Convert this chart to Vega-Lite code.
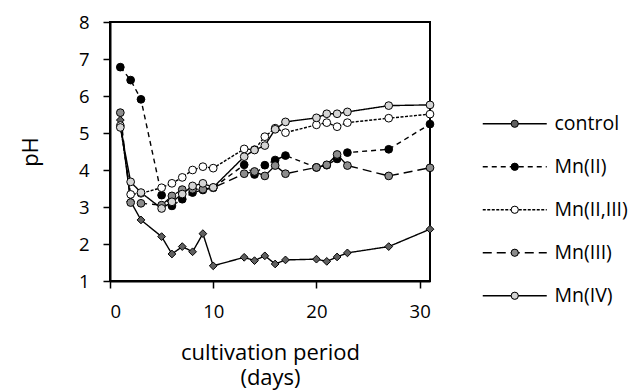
{
  "$schema": "https://vega.github.io/schema/vega-lite/v6.json",
  "width": 320,
  "height": 259,
  "autosize": {"type": "none"},
  "padding": {"left": 110, "top": 22, "right": 204, "bottom": 110},
  "config": {
    "font": "Open Sans",
    "view": {"stroke": "black", "strokeWidth": 2},
    "axis": {"grid": false, "domainColor": "black", "domainWidth": 2, "tickColor": "black", "tickWidth": 1.5, "tickSize": 7, "labelColor": "black", "titleColor": "black", "labelFontSize": 18.5, "titleFontSize": 22, "titleFontWeight": "normal"},
    "legend": {"labelFontSize": 19.5, "labelColor": "black", "rowPadding": 22, "symbolStrokeColor": "black"}
  },
  "data": {"values": [
    {"series": "control", "day": 1, "pH": 5.35}, {"series": "control", "day": 2, "pH": 3.15}, {"series": "control", "day": 3, "pH": 2.65}, {"series": "control", "day": 5, "pH": 2.2}, {"series": "control", "day": 6, "pH": 1.73}, {"series": "control", "day": 7, "pH": 1.93}, {"series": "control", "day": 8, "pH": 1.79}, {"series": "control", "day": 9, "pH": 2.28}, {"series": "control", "day": 10, "pH": 1.41}, {"series": "control", "day": 13, "pH": 1.64}, {"series": "control", "day": 14, "pH": 1.55}, {"series": "control", "day": 15, "pH": 1.68}, {"series": "control", "day": 16, "pH": 1.46}, {"series": "control", "day": 17, "pH": 1.57}, {"series": "control", "day": 20, "pH": 1.59}, {"series": "control", "day": 21, "pH": 1.53}, {"series": "control", "day": 22, "pH": 1.65}, {"series": "control", "day": 23, "pH": 1.76}, {"series": "control", "day": 27, "pH": 1.93}, {"series": "control", "day": 31, "pH": 2.4},
    {"series": "Mn(II)", "day": 1, "pH": 6.78}, {"series": "Mn(II)", "day": 2, "pH": 6.43}, {"series": "Mn(II)", "day": 3, "pH": 5.91}, {"series": "Mn(II)", "day": 5, "pH": 3.32}, {"series": "Mn(II)", "day": 6, "pH": 3.03}, {"series": "Mn(II)", "day": 7, "pH": 3.21}, {"series": "Mn(II)", "day": 8, "pH": 3.39}, {"series": "Mn(II)", "day": 9, "pH": 3.46}, {"series": "Mn(II)", "day": 10, "pH": 3.52}, {"series": "Mn(II)", "day": 13, "pH": 4.14}, {"series": "Mn(II)", "day": 14, "pH": 3.88}, {"series": "Mn(II)", "day": 15, "pH": 4.13}, {"series": "Mn(II)", "day": 16, "pH": 4.27}, {"series": "Mn(II)", "day": 17, "pH": 4.39}, {"series": "Mn(II)", "day": 20, "pH": 4.07}, {"series": "Mn(II)", "day": 21, "pH": 4.13}, {"series": "Mn(II)", "day": 22, "pH": 4.3}, {"series": "Mn(II)", "day": 23, "pH": 4.47}, {"series": "Mn(II)", "day": 27, "pH": 4.56}, {"series": "Mn(II)", "day": 31, "pH": 5.24},
    {"series": "Mn(II,III)", "day": 1, "pH": 5.2}, {"series": "Mn(II,III)", "day": 2, "pH": 3.34}, {"series": "Mn(II,III)", "day": 3, "pH": 3.37}, {"series": "Mn(II,III)", "day": 5, "pH": 3.52}, {"series": "Mn(II,III)", "day": 6, "pH": 3.64}, {"series": "Mn(II,III)", "day": 7, "pH": 3.8}, {"series": "Mn(II,III)", "day": 8, "pH": 4.0}, {"series": "Mn(II,III)", "day": 9, "pH": 4.09}, {"series": "Mn(II,III)", "day": 10, "pH": 4.05}, {"series": "Mn(II,III)", "day": 13, "pH": 4.57}, {"series": "Mn(II,III)", "day": 14, "pH": 4.55}, {"series": "Mn(II,III)", "day": 15, "pH": 4.9}, {"series": "Mn(II,III)", "day": 16, "pH": 5.13}, {"series": "Mn(II,III)", "day": 17, "pH": 5.01}, {"series": "Mn(II,III)", "day": 20, "pH": 5.22}, {"series": "Mn(II,III)", "day": 21, "pH": 5.28}, {"series": "Mn(II,III)", "day": 22, "pH": 5.17}, {"series": "Mn(II,III)", "day": 23, "pH": 5.28}, {"series": "Mn(II,III)", "day": 27, "pH": 5.4}, {"series": "Mn(II,III)", "day": 31, "pH": 5.51},
    {"series": "Mn(III)", "day": 1, "pH": 5.55}, {"series": "Mn(III)", "day": 2, "pH": 3.12}, {"series": "Mn(III)", "day": 3, "pH": 3.1}, {"series": "Mn(III)", "day": 5, "pH": 3.05}, {"series": "Mn(III)", "day": 6, "pH": 3.3}, {"series": "Mn(III)", "day": 7, "pH": 3.47}, {"series": "Mn(III)", "day": 8, "pH": 3.48}, {"series": "Mn(III)", "day": 9, "pH": 3.48}, {"series": "Mn(III)", "day": 10, "pH": 3.52}, {"series": "Mn(III)", "day": 13, "pH": 3.9}, {"series": "Mn(III)", "day": 14, "pH": 3.96}, {"series": "Mn(III)", "day": 15, "pH": 3.84}, {"series": "Mn(III)", "day": 16, "pH": 4.12}, {"series": "Mn(III)", "day": 17, "pH": 3.9}, {"series": "Mn(III)", "day": 20, "pH": 4.07}, {"series": "Mn(III)", "day": 21, "pH": 4.14}, {"series": "Mn(III)", "day": 22, "pH": 4.42}, {"series": "Mn(III)", "day": 23, "pH": 4.12}, {"series": "Mn(III)", "day": 27, "pH": 3.84}, {"series": "Mn(III)", "day": 31, "pH": 4.06},
    {"series": "Mn(IV)", "day": 1, "pH": 5.15}, {"series": "Mn(IV)", "day": 2, "pH": 3.68}, {"series": "Mn(IV)", "day": 3, "pH": 3.39}, {"series": "Mn(IV)", "day": 5, "pH": 2.96}, {"series": "Mn(IV)", "day": 6, "pH": 3.14}, {"series": "Mn(IV)", "day": 7, "pH": 3.35}, {"series": "Mn(IV)", "day": 8, "pH": 3.57}, {"series": "Mn(IV)", "day": 9, "pH": 3.64}, {"series": "Mn(IV)", "day": 10, "pH": 3.53}, {"series": "Mn(IV)", "day": 13, "pH": 4.36}, {"series": "Mn(IV)", "day": 14, "pH": 4.54}, {"series": "Mn(IV)", "day": 15, "pH": 4.66}, {"series": "Mn(IV)", "day": 16, "pH": 5.1}, {"series": "Mn(IV)", "day": 17, "pH": 5.3}, {"series": "Mn(IV)", "day": 20, "pH": 5.41}, {"series": "Mn(IV)", "day": 21, "pH": 5.52}, {"series": "Mn(IV)", "day": 22, "pH": 5.52}, {"series": "Mn(IV)", "day": 23, "pH": 5.57}, {"series": "Mn(IV)", "day": 27, "pH": 5.74}, {"series": "Mn(IV)", "day": 31, "pH": 5.76}
  ]},
  "encoding": {
    "x": {"field": "day", "type": "quantitative", "scale": {"domain": [0, 31], "nice": false},
      "axis": {"values": [0, 10, 20, 30], "labelPadding": 14, "title": ["cultivation period", "(days)"], "titleLineHeight": 25, "titlePadding": 22}},
    "y": {"field": "pH", "type": "quantitative", "scale": {"domain": [1, 8], "nice": false},
      "axis": {"values": [1, 2, 3, 4, 5, 6, 7, 8], "labelPadding": 14, "title": "pH", "titleX": -68, "titleY": 129.5}}
  },
  "layer": [
    {
      "mark": {"type": "line", "color": "black", "strokeWidth": 1.4},
      "encoding": {
        "strokeDash": {"field": "series", "type": "nominal",
          "scale": {"domain": ["control", "Mn(II)", "Mn(II,III)", "Mn(III)", "Mn(IV)"], "range": [[1, 0], [5, 4], [3, 1.5], [9, 5], [1, 0]]},
          "legend": {"title": null, "orient": "none", "legendX": 395, "legendY": 92, "symbolType": "M-8,0H8", "symbolSize": 64, "symbolStrokeWidth": 1.4, "symbolFillColor": "transparent", "labelOffset": 30}}
      }
    },
    {
      "mark": {"type": "point", "filled": true, "stroke": "black", "strokeWidth": 1, "opacity": 1, "size": 60},
      "encoding": {
        "shape": {"field": "series", "type": "nominal", "sort": ["control", "Mn(II)", "Mn(II,III)", "Mn(III)", "Mn(IV)"],
          "scale": {"range": ["diamond", "circle", "circle", "circle", "circle"]},
          "legend": {"title": null, "orient": "none", "legendX": 395, "legendY": 92, "symbolSize": 52, "symbolStrokeWidth": 1, "labelOpacity": 0, "labelOffset": 30}},
        "fill": {"field": "series", "type": "nominal", "sort": ["control", "Mn(II)", "Mn(II,III)", "Mn(III)", "Mn(IV)"],
          "scale": {"range": ["#606060", "black", "white", "#8c8c8c", "#d4d4d4"]},
          "legend": {"title": null, "orient": "none", "legendX": 395, "legendY": 92, "symbolSize": 52, "symbolStrokeWidth": 1, "labelOpacity": 0, "labelOffset": 30}}
      }
    }
  ]
}
